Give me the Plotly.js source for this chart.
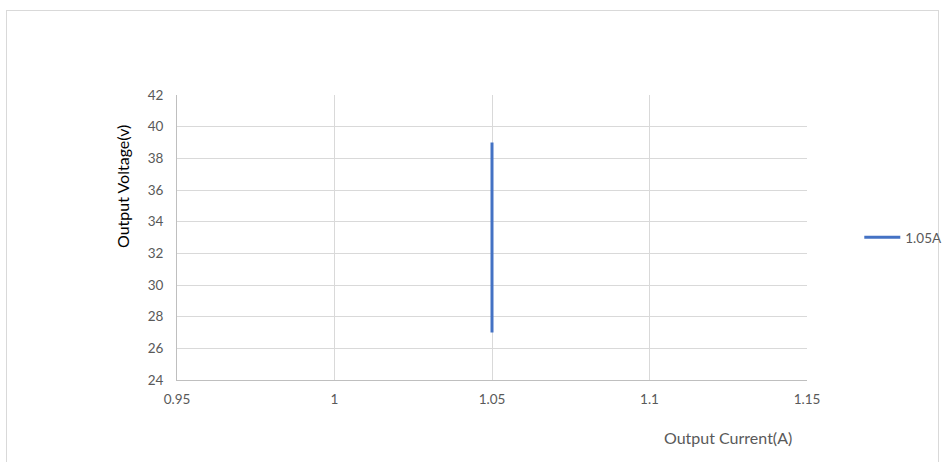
<!DOCTYPE html>
<html>
<head>
<meta charset="utf-8">
<script src="https://cdn.plot.ly/plotly-3.0.1.min.js"></script>
<style>
html,body{margin:0;padding:0;background:#fff;}
#frame{position:absolute;left:6px;top:10px;width:933px;height:470px;border:1px solid #d9d9d9;box-sizing:border-box;}
#chart{position:absolute;left:0;top:0;width:946px;height:462px;}
</style>
</head>
<body>
<div id="frame"></div>
<div id="chart"></div>
<script>
const seriesName = "1.05A";
const currentA = [1.05, 1.05];
const voltageV = [27, 39];
const xTicks = [0.95, 1, 1.05, 1.1, 1.15];
const xTickLabels = ["0.95", "1", "1.05", "1.1", "1.15"];
const yTicks = [24, 26, 28, 30, 32, 34, 36, 38, 40, 42];

const fontFam = "Lato, 'Open Sans', sans-serif";
const trace = {
  x: currentA, y: voltageV, type: 'scatter', mode: 'lines', name: seriesName,
  line: {color: '#4472C4', width: 3}
};
const layout = {
  width: 946, height: 462,
  margin: {l: 177, r: 139, t: 95, b: 82, autoexpand: false},
  paper_bgcolor: 'rgba(0,0,0,0)', plot_bgcolor: 'rgba(0,0,0,0)',
  font: {family: fontFam, size: 13.5, color: '#595959'},
  showlegend: true,
  legend: {x: 1.083, y: 0.5, xanchor: 'left', yanchor: 'middle', itemwidth: 36,
           font: {size: 13.5, color: '#595959'}, bgcolor: 'rgba(0,0,0,0)'},
  xaxis: {
    range: [0.95, 1.15], tickvals: xTicks, ticktext: xTickLabels,
    showgrid: true, gridcolor: '#d9d9d9', gridwidth: 1,
    showline: true, linecolor: '#bfbfbf', linewidth: 1,
    zeroline: false, ticks: '', ticklabelstandoff: 7
  },
  yaxis: {
    range: [24, 42], tickvals: yTicks,
    showgrid: true, gridcolor: '#d9d9d9', gridwidth: 1,
    showline: true, linecolor: '#bfbfbf', linewidth: 1,
    zeroline: false, ticks: '', ticklabelstandoff: 10
  },
  annotations: [
    {text: 'Output Current(A)', xref: 'paper', yref: 'paper', x: (728-177)/630, y: -(437-380)/285,
     xanchor: 'center', yanchor: 'middle', showarrow: false, font: {size: 16, color: '#595959', family: fontFam}},
    {text: 'Output Voltage(v)', xref: 'paper', yref: 'paper', x: -(177-122)/630, y: (380-187)/285,
     xanchor: 'center', yanchor: 'middle', showarrow: false, textangle: -90, font: {size: 16, color: '#000', family: fontFam}}
  ]
};
Plotly.newPlot('chart', [trace], layout, {displayModeBar: false, staticPlot: true});
</script>
</body>
</html>
